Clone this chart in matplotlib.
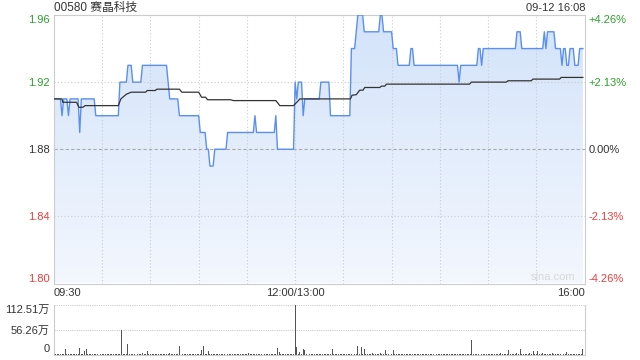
import matplotlib
matplotlib.use("Agg")
import matplotlib.pyplot as plt
import numpy as np
from matplotlib.colors import LinearSegmentedColormap

plt.rcParams['font.family'] = ['Liberation Sans', 'Noto Sans CJK SC', 'DejaVu Sans']

title = "00580 赛晶科技"
stamp = "09-12 16:08"
prev_close = 1.88

# price runs: minute where a level starts, and the level
run_start = [0, 5, 6, 9, 10, 16, 17, 26, 41, 46, 49, 55, 71, 72, 78, 91, 95, 97,
             100, 108, 125, 126, 138, 139, 150, 151, 152, 155, 156, 166, 172, 185,
             188, 189, 193, 203, 205, 211, 214, 222, 224, 252, 253, 264, 266, 267,
             288, 291, 305, 306, 307, 312, 316, 317, 319, 321, 324, 327]
run_price = [1.91, 1.90, 1.91, 1.90, 1.91, 1.89, 1.91, 1.90, 1.92, 1.93, 1.92, 1.93,
             1.92, 1.91, 1.90, 1.89, 1.88, 1.87, 1.88, 1.89, 1.90, 1.89, 1.90, 1.88,
             1.92, 1.91, 1.92, 1.90, 1.91, 1.92, 1.90, 1.94, 1.95, 1.96, 1.95, 1.96,
             1.95, 1.94, 1.93, 1.94, 1.93, 1.92, 1.93, 1.94, 1.93, 1.94, 1.95, 1.94,
             1.95, 1.94, 1.95, 1.94, 1.93, 1.94, 1.93, 1.94, 1.93, 1.94]
n_min = 330

# average price line breakpoints
avg_min = [0, 5, 5.4, 14, 15.5, 18, 19.3, 40, 41.6, 45, 48, 57, 58, 63, 64, 78, 79.5,
           90, 91.8, 94.3, 95.5, 110, 111.5, 138, 140.5, 149, 153, 184.4, 185.4, 188,
           190.2, 192.2, 193.3, 202.6, 203.7, 205.7, 206.8, 258.5, 259.6, 281.3, 282.4,
           296.9, 297.9, 314.5, 315.5, 329]
avg_val = [1.910, 1.910, 1.908, 1.908, 1.905, 1.905, 1.906, 1.906, 1.910, 1.9128,
           1.914, 1.914, 1.915, 1.915, 1.9158, 1.9158, 1.914, 1.914, 1.911, 1.911,
           1.9095, 1.9095, 1.909, 1.909, 1.906, 1.906, 1.910, 1.910, 1.9122, 1.9125,
           1.9152, 1.9152, 1.9168, 1.9168, 1.9176, 1.9176, 1.9188, 1.9188, 1.920,
           1.920, 1.9208, 1.9208, 1.9218, 1.9218, 1.9228, 1.9228]

# volume per minute, in 万 shares
vol = [3, 1, 1, 2, 1, 1, 2, 12, 1, 2, 1, 1, 2, 1, 1, 2, 15, 1, 2, 8, 12, 1, 1, 2, 1, 1, 2, 1, 1, 2,
       1, 2, 1, 1, 2, 1, 1, 2, 1, 1, 1, 2, 56, 2, 1, 1, 24, 2, 1, 1, 2, 1, 1, 2, 1, 3, 1, 2, 8, 1,
       1, 1, 2, 1, 1, 2, 1, 1, 1, 2, 1, 1, 4, 1, 2, 1, 1, 1, 19, 2, 1, 1, 2, 1, 1, 1, 2, 1, 1, 1,
       1, 2, 10, 19, 1, 2, 8, 1, 1, 2, 1, 1, 2, 1, 1, 2, 1, 1, 1, 2, 1, 1, 2, 1, 1, 1, 2, 1, 1, 2,
       1, 4, 1, 1, 2, 1, 1, 2, 1, 1, 1, 2, 1, 1, 2, 1, 1, 2, 1, 15, 5, 1, 2, 1, 1, 2, 1, 1, 2, 1,
       112.51, 16, 2, 5, 1, 13, 10, 2, 1, 1, 2, 1, 1, 2, 1, 1, 1, 2, 1, 1, 2, 1, 1, 12, 2, 1, 1, 2, 1, 1,
       1, 2, 1, 1, 2, 1, 57, 2, 1, 19, 2, 16, 1, 12, 2, 1, 1, 2, 4, 1, 2, 1, 1, 3, 2, 1, 10, 1, 2, 1,
       2, 10, 1, 1, 2, 1, 1, 2, 1, 1, 1, 2, 1, 1, 2, 1, 1, 2, 1, 1, 1, 2, 1, 1, 2, 1, 1, 1, 2, 1,
       1, 2, 1, 1, 2, 1, 1, 1, 2, 1, 1, 2, 1, 1, 1, 2, 1, 1, 2, 1, 33, 2, 1, 1, 2, 1, 1, 2, 1, 1,
       2, 1, 1, 2, 1, 1, 2, 1, 3, 1, 2, 1, 1, 10, 2, 1, 1, 2, 3, 1, 13, 2, 1, 1, 2, 1, 3, 1, 8, 1,
       2, 8, 1, 1, 4, 2, 1, 1, 2, 1, 3, 1, 1, 2, 1, 1, 33, 2, 1, 5, 2, 1, 1, 2, 1, 2, 1, 1, 2, 12]

price_ticks = [1.80, 1.84, 1.88, 1.92, 1.96]
vol_ticks = [0, 56.26, 112.51]
vol_labels = ["0", "56.26万", "112.51万"]
time_ticks = [0, 150, 330]
time_labels = ["09:30", "12:00/13:00", "16:00"]

GREEN = "#2ca02c"
RED = "#f03c3c"
DARK = "#333333"
GRID = "#cccccc"

durations = np.diff(run_start + [n_min])
price = np.repeat(run_price, durations)
minutes = np.arange(n_min)

fig = plt.figure(figsize=(6.4, 3.6), dpi=100)
ax = fig.add_axes([54 / 640, 1 - 283.5 / 360, 530.5 / 640, 268.5 / 360])
axv = fig.add_axes([54 / 640, 1 - 354.5 / 360, 530.5 / 640, 49.5 / 360])

ax.set_xlim(0, n_min)
ax.set_ylim(price_ticks[0], price_ticks[-1])

# gradient fill under the price line
cmap = LinearSegmentedColormap.from_list("fill", ["#f3f7fe", "#d3e3fa"])
grad = np.linspace(0, 1, 256).reshape(-1, 1)
img = ax.imshow(grad, extent=[0, n_min, price_ticks[0], price_ticks[-1]],
                origin="lower", aspect="auto", cmap=cmap, zorder=1)
poly = ax.fill_between(minutes, price, price_ticks[0], color="none")
img.set_clip_path(poly.get_paths()[0], transform=ax.transData)

for m in range(30, n_min, 30):
    ax.axvline(m, color=GRID, lw=0.8, ls=(0, (1, 2)), zorder=2)
for p in [1.84, 1.92]:
    ax.axhline(p, color=GRID, lw=0.8, ls=(0, (1, 2)), zorder=2)
ax.axhline(prev_close, color="#aaaaaa", lw=0.8, ls=(0, (3, 2)), zorder=2)

ax.plot(minutes, price, color="#5a8ff0", lw=1.0, zorder=3)
ax.plot(avg_min, avg_val, color="#333333", lw=0.9, zorder=4)

for s in ax.spines.values():
    s.set_color(GRID)
    s.set_linewidth(0.8)

ax.set_yticks(price_ticks)
ax.set_yticklabels(["%.2f" % p for p in price_ticks])
ax.tick_params(axis="y", length=0, pad=3, labelsize=8)
for lab, p in zip(ax.get_yticklabels(), price_ticks):
    lab.set_color(GREEN if p > prev_close else RED if p < prev_close else DARK)
ax.get_yticklabels()[0].set_va("bottom")
ax.get_yticklabels()[-1].set_va("top")

ax2 = ax.twinx()
ax2.set_ylim(ax.get_ylim())
ax2.set_yticks(price_ticks)
pct = [(p - prev_close) / prev_close * 100 for p in price_ticks]
ax2.set_yticklabels([("+%.2f%%" % q if q > 0.001 else "%.2f%%" % q) for q in pct])
ax2.tick_params(axis="y", length=0, pad=3, labelsize=8)
for lab, q in zip(ax2.get_yticklabels(), pct):
    lab.set_color(GREEN if q > 0.001 else RED if q < -0.001 else DARK)
ax2.get_yticklabels()[0].set_va("bottom")
ax2.get_yticklabels()[-1].set_va("top")
for s in ax2.spines.values():
    s.set_visible(False)

ax.set_xticks(time_ticks)
ax.set_xticklabels(time_labels)
ax.tick_params(axis="x", length=0, pad=3, labelsize=8, labelcolor=DARK)
xl = ax.get_xticklabels()
xl[0].set_ha("left")
xl[-1].set_ha("right")

ax.text(0.94, 0.005, "sina.com", transform=ax.transAxes, ha="center", va="bottom",
        fontsize=8, color="#d8d8d8", zorder=5)

fig.text(54 / 640, 1 - 8 / 360, title, ha="left", va="center", fontsize=8.5, color=DARK)
fig.text(585 / 640, 1 - 8 / 360, stamp, ha="right", va="center", fontsize=8, color=DARK)

# volume panel
axv.set_xlim(0, n_min)
axv.set_ylim(0, vol_ticks[-1])
axv.bar(minutes, vol, width=0.6, color="#555555", zorder=3)
for v in vol_ticks[1:]:
    axv.axhline(v, color=GRID, lw=0.8, ls=(0, (1, 1)), zorder=2)
axv.spines["top"].set_visible(False)
for k in ["left", "right", "bottom"]:
    axv.spines[k].set_color(GRID)
    axv.spines[k].set_linewidth(0.8)
axv.set_xticks([])
axv.set_yticks(vol_ticks)
axv.set_yticklabels(vol_labels)
axv.tick_params(axis="y", length=0, pad=3, labelsize=8, labelcolor=DARK)
axv.get_yticklabels()[0].set_va("bottom")
axv.get_yticklabels()[-1].set_va("top")

fig.savefig("out.png", dpi=100)
